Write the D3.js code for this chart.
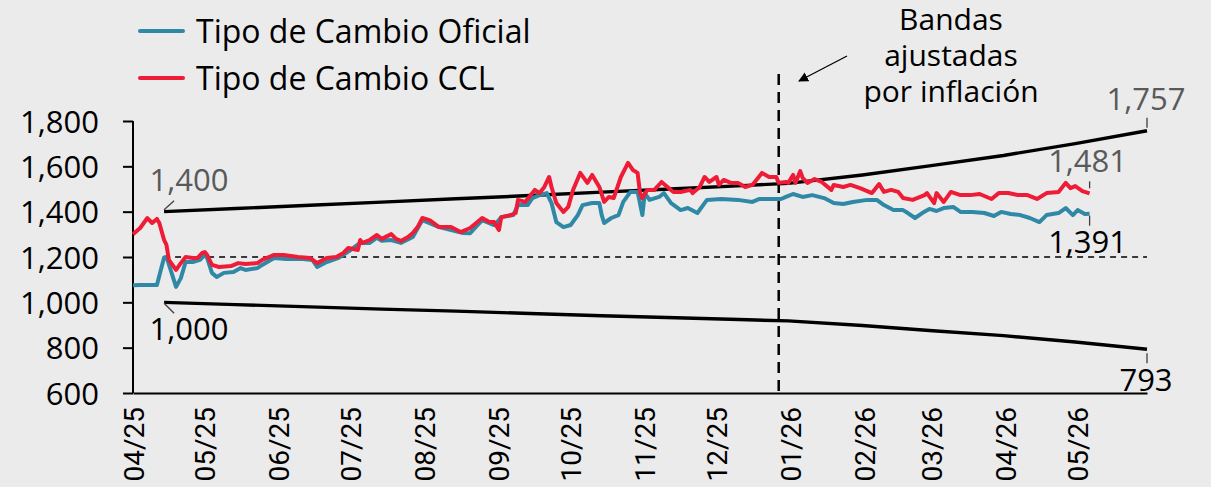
<!DOCTYPE html>
<html>
<head>
<meta charset="utf-8">
<script src="https://cdn.jsdelivr.net/npm/d3@7"></script>
<style>
  html, body { margin: 0; padding: 0; background: #ebebeb; }
  svg { display: block; }
  text { font-family: "Open Sans", "Noto Sans", sans-serif; }
</style>
</head>
<body>
<div id="chart"></div>
<script>
// tipo de cambio oficial (A3500) y CCL
var oficial = [
  ["2025-04-01",1075],["2025-04-04",1076],["2025-04-08",1077],["2025-04-11",1076],["2025-04-14",1198],["2025-04-15",1200],
  ["2025-04-17",1134],["2025-04-19",1068],["2025-04-21",1107],["2025-04-23",1178],["2025-04-26",1178],["2025-04-29",1187],
  ["2025-05-01",1209],["2025-05-02",1196],["2025-05-04",1130],["2025-05-06",1112],["2025-05-09",1130],["2025-05-13",1134],
  ["2025-05-16",1151],["2025-05-18",1143],["2025-05-23",1151],["2025-05-25",1165],["2025-05-30",1196],["2025-06-04",1191],
  ["2025-06-11",1191],["2025-06-15",1187],["2025-06-17",1156],["2025-06-21",1178],["2025-06-26",1196],["2025-07-01",1231],
  ["2025-07-05",1262],["2025-07-09",1262],["2025-07-12",1285],["2025-07-14",1272],["2025-07-18",1275],["2025-07-22",1262],
  ["2025-07-27",1288],["2025-07-31",1363],["2025-08-07",1332],["2025-08-17",1306],["2025-08-20",1305],["2025-08-25",1363],
  ["2025-08-30",1341],["2025-09-01",1363],["2025-09-02",1376],["2025-09-07",1385],["2025-09-09",1429],["2025-09-13",1429],
  ["2025-09-15",1460],["2025-09-18",1473],["2025-09-21",1482],["2025-09-23",1438],["2025-09-25",1354],["2025-09-28",1332],
  ["2025-10-01",1341],["2025-10-04",1385],["2025-10-06",1429],["2025-10-10",1438],["2025-10-13",1438],["2025-10-14",1385],
  ["2025-10-15",1350],["2025-10-18",1372],["2025-10-21",1385],["2025-10-23",1443],["2025-10-26",1487],["2025-10-29",1487],
  ["2025-10-31",1385],["2025-11-01",1482],["2025-11-03",1452],["2025-11-07",1465],["2025-11-09",1482],["2025-11-12",1438],
  ["2025-11-16",1407],["2025-11-19",1416],["2025-11-23",1394],["2025-11-27",1452],["2025-12-03",1456],["2025-12-10",1452],
  ["2025-12-16",1443],["2025-12-19",1456],["2025-12-28",1456],["2025-12-30",1465],["2026-01-02",1478],["2026-01-06",1465],
  ["2026-01-10",1473],["2026-01-15",1460],["2026-01-19",1438],["2026-01-23",1434],["2026-01-27",1443],["2026-02-02",1452],
  ["2026-02-06",1452],["2026-02-09",1429],["2026-02-13",1407],["2026-02-17",1407],["2026-02-19",1394],["2026-02-22",1372],
  ["2026-02-25",1394],["2026-02-28",1412],["2026-03-03",1403],["2026-03-06",1416],["2026-03-10",1421],["2026-03-13",1399],
  ["2026-03-18",1399],["2026-03-23",1394],["2026-03-27",1381],["2026-03-30",1399],["2026-04-03",1390],["2026-04-07",1385],
  ["2026-04-11",1372],["2026-04-15",1354],["2026-04-18",1385],["2026-04-23",1394],["2026-04-26",1416],["2026-04-29",1385],
  ["2026-05-01",1407],["2026-05-04",1390],["2026-05-06",1391]
];

var ccl = [
  ["2025-04-01",1300],["2025-04-04",1328],["2025-04-07",1372],["2025-04-09",1350],["2025-04-11",1368],["2025-04-12",1350],
  ["2025-04-14",1275],["2025-04-15",1253],["2025-04-16",1187],["2025-04-19",1143],["2025-04-21",1173],["2025-04-23",1200],
  ["2025-04-26",1196],["2025-04-28",1196],["2025-04-30",1218],["2025-05-01",1222],["2025-05-02",1209],["2025-05-04",1165],
  ["2025-05-07",1156],["2025-05-12",1160],["2025-05-15",1173],["2025-05-18",1169],["2025-05-23",1173],["2025-05-25",1187],
  ["2025-05-30",1209],["2025-06-03",1209],["2025-06-09",1200],["2025-06-14",1196],["2025-06-17",1173],["2025-06-21",1196],
  ["2025-06-25",1200],["2025-06-28",1218],["2025-06-30",1240],["2025-07-04",1231],["2025-07-05",1275],["2025-07-06",1262],
  ["2025-07-09",1275],["2025-07-12",1297],["2025-07-14",1280],["2025-07-18",1301],["2025-07-20",1280],["2025-07-22",1271],
  ["2025-07-25",1288],["2025-07-27",1306],["2025-07-29",1332],["2025-07-31",1372],["2025-08-03",1363],["2025-08-07",1332],
  ["2025-08-12",1332],["2025-08-16",1310],["2025-08-20",1328],["2025-08-25",1372],["2025-08-28",1354],["2025-08-30",1354],
  ["2025-09-01",1319],["2025-09-02",1376],["2025-09-06",1385],["2025-09-08",1394],["2025-09-09",1452],["2025-09-12",1443],
  ["2025-09-15",1482],["2025-09-16",1496],["2025-09-18",1482],["2025-09-20",1509],["2025-09-22",1553],["2025-09-23",1509],
  ["2025-09-25",1438],["2025-09-28",1399],["2025-09-30",1421],["2025-10-02",1496],["2025-10-05",1571],["2025-10-08",1527],
  ["2025-10-10",1562],["2025-10-13",1509],["2025-10-15",1443],["2025-10-17",1465],["2025-10-19",1460],["2025-10-22",1553],
  ["2025-10-25",1615],["2025-10-27",1584],["2025-10-29",1571],["2025-10-30",1482],["2025-10-31",1460],["2025-11-02",1496],
  ["2025-11-05",1496],["2025-11-08",1531],["2025-11-11",1504],["2025-11-13",1487],["2025-11-16",1487],["2025-11-20",1496],
  ["2025-11-21",1482],["2025-11-24",1509],["2025-11-26",1553],["2025-11-28",1531],["2025-12-01",1553],["2025-12-02",1518],
  ["2025-12-04",1540],["2025-12-07",1527],["2025-12-10",1527],["2025-12-13",1509],["2025-12-16",1518],["2025-12-20",1571],
  ["2025-12-23",1553],["2025-12-26",1553],["2025-12-27",1527],["2025-12-30",1531],["2025-12-31",1527],["2026-01-02",1562],
  ["2026-01-03",1527],["2026-01-05",1579],["2026-01-06",1549],["2026-01-08",1527],["2026-01-11",1544],["2026-01-14",1531],
  ["2026-01-18",1496],["2026-01-19",1518],["2026-01-23",1509],["2026-01-26",1518],["2026-01-30",1504],["2026-02-04",1482],
  ["2026-02-07",1522],["2026-02-09",1487],["2026-02-12",1496],["2026-02-15",1487],["2026-02-17",1460],["2026-02-21",1452],
  ["2026-02-26",1473],["2026-02-27",1482],["2026-03-02",1438],["2026-03-03",1482],["2026-03-06",1443],["2026-03-09",1487],
  ["2026-03-13",1473],["2026-03-17",1473],["2026-03-21",1478],["2026-03-26",1456],["2026-03-29",1482],["2026-04-02",1482],
  ["2026-04-06",1473],["2026-04-10",1473],["2026-04-14",1456],["2026-04-18",1482],["2026-04-23",1487],["2026-04-26",1527],
  ["2026-04-28",1504],["2026-04-30",1513],["2026-05-03",1491],["2026-05-06",1481]
];

// bandas cambiarias
var bandaSup = [
  ["2025-04-14",1400],["2025-05-14",1414],["2025-06-14",1428],["2025-07-14",1442],["2025-08-14",1457],["2025-09-14",1471],
  ["2025-10-14",1486],["2025-11-14",1501],["2025-12-14",1516],["2025-12-31",1525],["2026-01-31",1562],["2026-02-28",1602],
  ["2026-03-31",1648],["2026-04-30",1700],["2026-05-30",1757]
];
var bandaInf = [
  ["2025-04-14",1000],["2025-05-14",990],["2025-06-14",980],["2025-07-14",970],["2025-08-14",961],["2025-09-14",951],
  ["2025-10-14",941],["2025-11-14",932],["2025-12-14",923],["2025-12-31",918],["2026-01-31",898],["2026-02-28",876],
  ["2026-03-31",853],["2026-04-30",825],["2026-05-30",793]
];
var referencia = [["2025-04-14",1200],["2026-05-30",1200]];
var cambioBandas = "2025-12-27";

var fechaIni = "2025-04-01", fechaFin = "2026-05-30";
var yTicks = [600, 800, 1000, 1200, 1400, 1600, 1800];
var xTicks = ["2025-04-01","2025-05-01","2025-06-01","2025-07-01","2025-08-01","2025-09-01","2025-10-01",
  "2025-11-01","2025-12-01","2026-01-01","2026-02-01","2026-03-01","2026-04-01","2026-05-01"];

var width = 1211, height = 487;
var parse = d3.timeParse("%Y-%m-%d");
var fmt = d3.format(",");

var x = d3.scaleTime().domain([parse(fechaIni), parse(fechaFin)]).range([133, 1147]);
var y = d3.scaleLinear().domain([600, 1800]).range([393, 121]);

var svg = d3.select("#chart").append("svg")
  .attr("width", width)
  .attr("height", height);

var line = d3.line()
  .x(function (d) { return x(parse(d[0])); })
  .y(function (d) { return y(d[1]); });

// y axis
var yAxis = svg.append("g")
  .attr("transform", "translate(133,0)")
  .call(d3.axisLeft(y).tickValues(yTicks).tickFormat(fmt).tickSize(10).tickPadding(24));
yAxis.select(".domain").attr("stroke", "#000").attr("stroke-width", 2).attr("d", "M0," + y(600) + "V" + y(1800));
yAxis.selectAll(".tick line").attr("stroke", "#000").attr("stroke-width", 2);
yAxis.selectAll(".tick text")
  .attr("fill", "#000")
  .attr("dy", "0.36em")
  .style("font-size", "31px")
  .style("font-family", "'Open Sans', sans-serif");

// x axis
var xAxis = svg.append("g")
  .attr("transform", "translate(0," + y(600) + ")")
  .call(d3.axisBottom(x).tickValues(xTicks.map(parse)).tickFormat(d3.timeFormat("%m/%y")).tickSize(0));
xAxis.select(".domain").attr("stroke", "#000").attr("stroke-width", 2);
xAxis.selectAll(".tick text")
  .attr("fill", "#000")
  .attr("transform", "rotate(-90)")
  .attr("text-anchor", "end")
  .attr("x", -14)
  .attr("y", 0)
  .attr("dy", "0.36em")
  .style("font-size", "28px")
  .style("font-family", "Roboto, sans-serif");

// linea de 1200
svg.append("path")
  .datum(referencia)
  .attr("d", line)
  .attr("fill", "none")
  .attr("stroke", "#000")
  .attr("stroke-width", 1.5)
  .attr("stroke-dasharray", "6,5");

// corte de regimen
svg.append("line")
  .attr("x1", x(parse(cambioBandas))).attr("x2", x(parse(cambioBandas)))
  .attr("y1", 74).attr("y2", y(600))
  .attr("stroke", "#000")
  .attr("stroke-width", 2.5)
  .attr("stroke-dasharray", "11,7");

// bandas
[bandaSup, bandaInf].forEach(function (b) {
  svg.append("path")
    .datum(b)
    .attr("d", line)
    .attr("fill", "none")
    .attr("stroke", "#000")
    .attr("stroke-width", 3.4);
});

// series
var series = [
  {name: "Tipo de Cambio Oficial", data: oficial, color: "#2f89a6"},
  {name: "Tipo de Cambio CCL", data: ccl, color: "#ee1c36"}
];
series.forEach(function (s) {
  svg.append("path")
    .datum(s.data)
    .attr("d", line)
    .attr("fill", "none")
    .attr("stroke", s.color)
    .attr("stroke-width", 4)
    .attr("stroke-linejoin", "round");
});

// leyenda
var legend = svg.append("g");
series.forEach(function (s, i) {
  var ly = 31 + i * 47;
  legend.append("line")
    .attr("x1", 140).attr("x2", 183)
    .attr("y1", ly).attr("y2", ly)
    .attr("stroke", s.color)
    .attr("stroke-width", 4)
    .attr("stroke-linecap", "round");
  legend.append("text")
    .attr("x", 196).attr("y", ly + 12)
    .style("font-size", "32px")
    .attr("fill", "#000")
    .text(s.name);
});

// etiquetas de valores
function leader(x1, y1, x2, y2) {
  svg.append("line")
    .attr("x1", x1).attr("y1", y1).attr("x2", x2).attr("y2", y2)
    .attr("stroke", "#404040").attr("stroke-width", 1.3);
}
function label(txt, cx, by, color) {
  svg.append("text")
    .attr("x", cx).attr("y", by)
    .attr("text-anchor", "middle")
    .style("font-size", "31px")
    .attr("fill", color)
    .text(txt);
}

var ini = bandaSup[0], ultSup = bandaSup[bandaSup.length - 1];
var iniInf = bandaInf[0], ultInf = bandaInf[bandaInf.length - 1];
var ultOf = oficial[oficial.length - 1], ultCcl = ccl[ccl.length - 1];

var px = x(parse(ini[0])), py = y(ini[1]);
leader(px, py - 2, px + 10, py - 11);
label(fmt(ini[1]), px + 25, py - 21, "#595959");

px = x(parse(iniInf[0])); py = y(iniInf[1]);
leader(px, py + 1, px + 10, py + 11);
label(fmt(iniInf[1]), px + 25, py + 38, "#000");

px = x(parse(ultSup[0])); py = y(ultSup[1]);
leader(px, py - 3, px, py - 13);
label(fmt(ultSup[1]), px - 1, py - 21, "#595959");

px = x(parse(ultCcl[0])); py = y(ultCcl[1]);
leader(px, py - 5, px, py - 12);
label(fmt(ultCcl[1]), px - 2, py - 21, "#595959");

px = x(parse(ultOf[0])); py = y(ultOf[1]);
leader(px, py + 2, px, py + 12);
label(fmt(ultOf[1]), px - 2, py + 39, "#000");

px = x(parse(ultInf[0])); py = y(ultInf[1]);
leader(px, py + 4, px, py + 14);
label(fmt(ultInf[1]), px - 1, py + 42, "#000");

// anotacion
var nota = ["Bandas", "ajustadas", "por inflación"];
nota.forEach(function (t, i) {
  svg.append("text")
    .attr("x", 951).attr("y", 30 + i * 36)
    .attr("text-anchor", "middle")
    .style("font-size", "30px")
    .attr("fill", "#000")
    .text(t);
});
svg.append("defs").append("marker")
  .attr("id", "flecha")
  .attr("viewBox", "0 0 10 10")
  .attr("refX", 9).attr("refY", 5)
  .attr("markerWidth", 10).attr("markerHeight", 10)
  .attr("markerUnits", "userSpaceOnUse")
  .attr("orient", "auto")
  .append("path")
  .attr("d", "M0,0L10,5L0,10z")
  .attr("fill", "#000");
svg.append("line")
  .attr("x1", 847).attr("y1", 56)
  .attr("x2", 799).attr("y2", 81)
  .attr("stroke", "#000")
  .attr("stroke-width", 1.3)
  .attr("marker-end", "url(#flecha)");
</script>
</body>
</html>
